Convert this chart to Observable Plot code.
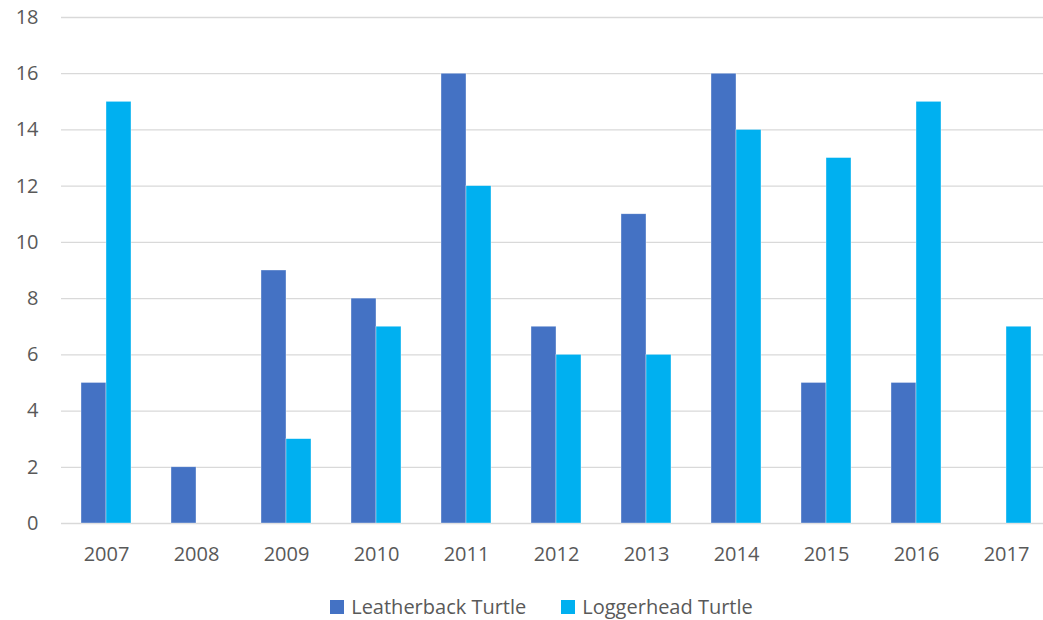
<!DOCTYPE html>
<html>
<head>
<meta charset="utf-8">
<script src="https://cdn.jsdelivr.net/npm/d3@7"></script>
<script src="https://cdn.jsdelivr.net/npm/@observablehq/plot@0.6"></script>
<style>
  body { margin: 0; background: white; font-family: "Open Sans", sans-serif; }
  #legend { display: flex; justify-content: center; gap: 35px; margin-top: 18px; padding-left: 40px; font-size: 20px; color: #595959; line-height: 28px; }
  .item { display: flex; align-items: center; gap: 7px; }
  .sw { width: 14px; height: 14px; display: inline-block; }
</style>
</head>
<body>
<div id="chart"></div>
<div id="legend"></div>
<script>
const years = [2007, 2008, 2009, 2010, 2011, 2012, 2013, 2014, 2015, 2016, 2017];
const series = ["Leatherback Turtle", "Loggerhead Turtle"];
const leatherback = [5, 2, 9, 8, 16, 7, 11, 16, 5, 5, 0];
const loggerhead = [15, 0, 3, 7, 12, 6, 6, 14, 13, 15, 7];
const colors = ["#4472C4", "#00B0F0"];
const yTicks = [0, 2, 4, 6, 8, 10, 12, 14, 16, 18];

const data = years.flatMap((y, i) => [
  {year: y, series: series[0], value: leatherback[i]},
  {year: y, series: series[1], value: loggerhead[i]}
]);

const chart = Plot.plot({
  width: 1043,
  height: 575,
  marginLeft: 60,
  marginRight: -8,
  marginTop: 17,
  marginBottom: 52,
  style: {fontFamily: "Open Sans", fontSize: "20px", color: "#595959", background: "white"},
  fx: {domain: years, padding: 0, label: null},
  x: {domain: series, paddingInner: 0, paddingOuter: 0.75, axis: null},
  y: {domain: [0, 18], label: null},
  color: {domain: series, range: colors},
  marks: [
    Plot.ruleY(yTicks, {stroke: "#d9d9d9", strokeWidth: 1.3}),
    Plot.barY(data, {fx: "year", x: "series", y: "value", fill: "series", stroke: "white", strokeWidth: 0.6, strokeOpacity: 0.6}),
    Plot.axisY({ticks: yTicks, tickSize: 0, tickPadding: 23, label: null}),
    Plot.axisFx({anchor: "bottom", tickSize: 0, tickPadding: 23, label: null, tickFormat: d => String(d)})
  ]
});
document.getElementById("chart").appendChild(chart);

const legend = document.getElementById("legend");
series.forEach((s, i) => {
  const item = document.createElement("div");
  item.className = "item";
  const sw = document.createElement("span");
  sw.className = "sw";
  sw.style.background = colors[i];
  const t = document.createElement("span");
  t.textContent = s;
  item.appendChild(sw);
  item.appendChild(t);
  legend.appendChild(item);
});
</script>
</body>
</html>
